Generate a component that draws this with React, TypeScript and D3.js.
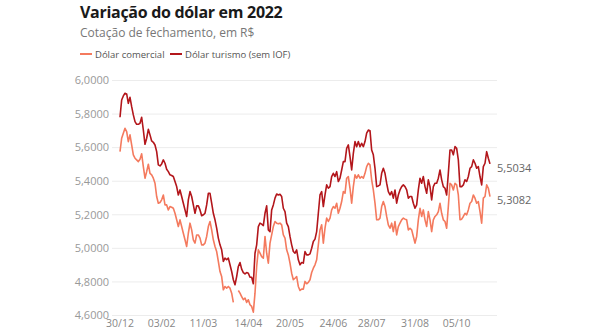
import React from "react";
import * as d3 from "d3";

const title = "Variação do dólar em 2022";
const subtitle = "Cotação de fechamento, em R$";
const seriesNames = ["Dólar comercial", "Dólar turismo (sem IOF)"];
const seriesColors = ["#f47a5e", "#b3161b"];

const yTicks = [4.6, 4.8, 5.0, 5.2, 5.4, 5.6, 5.8, 6.0];
const xTickLabels = ["30/12", "03/02", "11/03", "14/04", "20/05", "24/06", "28/07", "31/08", "05/10"];
const xTickIndex = [0, 25, 50, 77, 102, 128, 151, 177, 202];

const turismo: number[] = [
  5.781, 5.884, 5.908, 5.924, 5.920, 5.864, 5.900, 5.844, 5.795, 5.755,
  5.739, 5.739, 5.745, 5.781, 5.705, 5.620, 5.656, 5.709, 5.676, 5.640,
  5.632, 5.616, 5.576, 5.497, 5.491, 5.503, 5.527, 5.507, 5.471, 5.457,
  5.438, 5.434, 5.428, 5.398, 5.368, 5.318, 5.348, 5.309, 5.269, 5.229,
  5.190, 5.289, 5.338, 5.309, 5.259, 5.209, 5.253, 5.253, 5.229, 5.194,
  5.200, 5.209, 5.259, 5.328, 5.328, 5.269, 5.209, 5.170, 5.120, 5.061,
  5.021, 4.991, 4.922, 4.942, 4.932, 4.942, 4.902, 4.862, 4.813, 4.783,
  4.832, 4.892, 4.916, 4.876, 4.856, 4.848, 4.856, 4.852, 4.828, 4.828,
  4.789, 4.971, 5.021, 5.130, 5.150, 5.144, 5.136, 5.209, 5.253, 5.110,
  5.100, 5.229, 5.259, 5.299, 5.324, 5.318, 5.322, 5.309, 5.239, 5.219,
  5.150, 5.130, 5.071, 5.021, 4.981, 4.971, 4.991, 4.932, 4.902, 4.916,
  4.912, 4.981, 4.961, 4.961, 4.967, 5.001, 5.041, 5.055, 5.100, 5.209,
  5.318,
  5.338, 5.249, 5.318, 5.378, 5.358, 5.368, 5.428, 5.447, 5.428, 5.457,
  5.398, 5.418, 5.467, 5.517, 5.517, 5.596, 5.616, 5.547, 5.467, 5.566,
  5.636, 5.606, 5.636, 5.606, 5.626, 5.606, 5.636, 5.686, 5.705, 5.701,
  5.586, 5.557, 5.477, 5.368, 5.372, 5.378, 5.447, 5.477, 5.447, 5.388,
  5.338, 5.318, 5.338, 5.299, 5.348, 5.269, 5.318, 5.348, 5.368, 5.378,
  5.368, 5.348, 5.299, 5.309, 5.309, 5.269, 5.239, 5.259, 5.348, 5.418,
  5.388, 5.428, 5.368, 5.328, 5.408, 5.368, 5.289, 5.368, 5.388, 5.388,
  5.418, 5.467, 5.408, 5.368, 5.358, 5.318, 5.447, 5.586, 5.586, 5.557,
  5.606, 5.596, 5.527, 5.368, 5.368, 5.378, 5.408, 5.398, 5.428, 5.477,
  5.487, 5.527, 5.507, 5.477, 5.487, 5.428, 5.378, 5.487, 5.507, 5.576,
  5.537, 5.5034,
];

const comercial: (number | null)[] = [
  5.576, 5.656, 5.686, 5.715, 5.695, 5.636, 5.676, 5.616, 5.557, 5.537,
  5.527, 5.517, 5.531, 5.563, 5.487, 5.418, 5.457, 5.501, 5.447, 5.438,
  5.418, 5.388, 5.309, 5.269, 5.273, 5.289, 5.318, 5.259, 5.259, 5.229,
  5.249, 5.245, 5.239, 5.209, 5.170, 5.130, 5.170, 5.130, 5.090, 5.051,
  5.011, 5.090, 5.150, 5.110, 5.051, 5.031, 5.080, 5.080, 5.061, 5.021,
  5.021, 5.031, 5.071, 5.130, 5.160, 5.110, 5.051, 5.011, 4.981, 4.922,
  4.862, 4.832, 4.753, 4.773, 4.763, 4.773, 4.763, 4.733, 4.678, null,
  null, 4.749, 4.733, 4.713, 4.694, 4.704, 4.678, 4.694, 4.664, 4.654,
  4.620, 4.733, 4.892, 4.991, 4.971, 4.951, 4.942, 5.071, 4.971, 4.912,
  5.031, 5.080, 5.130, 5.160, 5.150, 5.146, 5.150, 5.140, 5.080, 5.061,
  4.991, 4.961, 4.912, 4.852, 4.813, 4.822, 4.832, 4.773, 4.749, 4.757,
  4.757, 4.803, 4.789, 4.797, 4.813, 4.856, 4.882, 4.902, 4.932, 5.021,
  5.110,
  5.140, 5.031, 5.120, 5.180, 5.160, 5.180, 5.229, 5.249, 5.239, 5.269,
  5.209, 5.239, 5.279, 5.338, 5.328, 5.418, 5.428, 5.358, 5.269, 5.368,
  5.438, 5.418, 5.438, 5.418, 5.428, 5.418, 5.447, 5.487, 5.507, 5.497,
  5.408, 5.348, 5.269, 5.170, 5.170, 5.180, 5.249, 5.279, 5.249, 5.190,
  5.140, 5.120, 5.150, 5.100, 5.160, 5.080, 5.130, 5.150, 5.170, 5.180,
  5.174, 5.170, 5.110, 5.120, 5.110, 5.071, 5.031, 5.071, 5.170, 5.239,
  5.190, 5.229, 5.170, 5.130, 5.219, 5.170, 5.100, 5.170, 5.190, 5.200,
  5.219, 5.269, 5.209, 5.170, 5.160, 5.120, 5.249, 5.388, 5.378, 5.348,
  5.388, 5.378, 5.318, 5.170, 5.174, 5.190, 5.209, 5.200, 5.229, 5.269,
  5.279, 5.318, 5.299, 5.269, 5.279, 5.219, 5.150, 5.299, 5.309, 5.378,
  5.358, 5.3082,
];

const fmt = (v: number) => v.toFixed(4).replace(".", ",");

export default function App() {
  const W = 590;
  const H = 330;
  const font = "'Open Sans', 'Noto Sans', sans-serif";
  const N = turismo.length;
  const x = d3.scaleLinear().domain([0, N - 1]).range([120, 490]);
  const y = d3.scaleLinear().domain([4.6, 6.0]).range([315.5, 80.5]);

  const mkLine = (arr: (number | null)[]) => {
    const xs = d3.scaleLinear().domain([0, arr.length - 1]).range([120, 490]);
    return d3
      .line<number | null>()
      .defined((d) => d !== null)
      .x((_, i) => xs(i))
      .y((d) => y(d as number))(arr) as string;
  };

  const series = [comercial, turismo];
  const lastVals = [comercial[comercial.length - 1] as number, turismo[N - 1]];
  const legendX = [80, 170];

  return (
    <div style={{ position: "absolute", left: 0, top: 0 }}>
      <svg width={W} height={H} style={{ display: "block", background: "#fff" }} fontFamily={font}>
        <text x={80} y={18} fontSize={16} fontWeight={700} letterSpacing={-0.3} fill="#1a1a1a">{title}</text>
        <text x={80} y={37} fontSize={12} fill="#777">{subtitle}</text>
        {seriesNames.map((n, i) => {
          const lx = legendX[i];
          return (
            <g key={n}>
              <line x1={lx} x2={lx + 12} y1={54} y2={54} stroke={seriesColors[i]} strokeWidth={2} />
              <text x={lx + 15} y={57.5} fontSize={9.5} fill="#555">{n}</text>
            </g>
          );
        })}
        {yTicks.map((t) => (
          <g key={t}>
            <line x1={112} x2={497} y1={y(t)} y2={y(t)} stroke="#ececec" strokeWidth={1} />
            <text x={109} y={y(t)} dy="0.35em" textAnchor="end" fontSize={11} fill="#999">{fmt(t)}</text>
          </g>
        ))}
        {xTickLabels.map((l, i) => (
          <text key={l} x={x(xTickIndex[i])} y={327} textAnchor="middle" fontSize={10.5} fill="#888">{l}</text>
        ))}
        {series.map((s, i) => (
          <path key={i} d={mkLine(s)} fill="none" stroke={seriesColors[i]} strokeWidth={1.6} strokeLinejoin="round" />
        ))}
        {lastVals.map((v, i) => (
          <text key={i} x={497} y={y(v) + 4} dy="0.35em" fontSize={11} fill="#666">{fmt(v)}</text>
        ))}
      </svg>
    </div>
  );
}
